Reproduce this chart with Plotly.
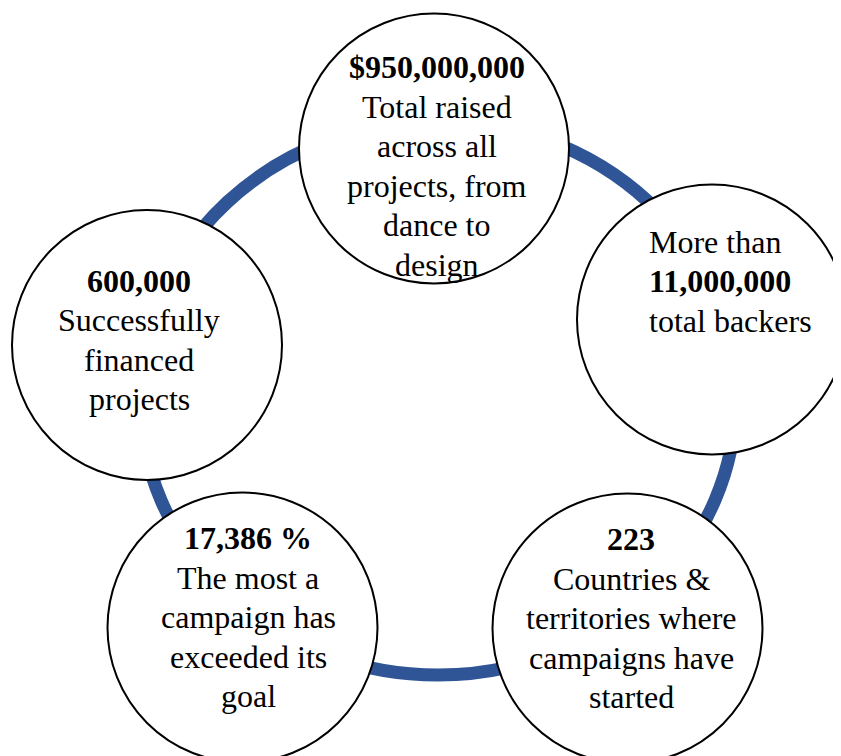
import plotly.graph_objects as go

# ---- content ----
headlines = ["$950,000,000", "11,000,000", "223", "17,386 %", "600,000"]
descriptions = [
    ["Total raised", "across all", "projects, from", "dance to", "design"],
    ["More than", None, "total backers"],
    ["Countries &", "territories where", "campaigns have", "started"],
    ["The most a", "campaign has", "exceeded its", "goal"],
    ["Successfully", "financed", "projects"],
]

# ---- layout (page-pixel coordinates) ----
W, H = 841, 756
PAGE_OFF = 8  # default body margin of the html page
centers = [(434, 148.5), (712, 319.5), (627.5, 628.5), (242.5, 627.5), (147, 345)]
radius = 135
ring = dict(cx=438, cy=398, a=298, b=277)
text_pos = [  # x, y (middle of block), xanchor, align
    (437, 166, "center"),
    (647, 281, "left"),
    (631, 618, "center"),
    (248, 617, "center"),
    (139, 340, "center"),
]
LINE_GAP = 39.5
FONT_SIZE = 32
RING_COLOR = "#2F5597"
FONT = "Liberation Serif"

fig = go.Figure()
fig.add_trace(go.Scatter(x=[PAGE_OFF, W], y=[PAGE_OFF, H], mode="markers",
                         marker=dict(opacity=0), hoverinfo="skip", showlegend=False))

shapes = [dict(type="circle", xref="x", yref="y",
               x0=ring["cx"] - ring["a"], x1=ring["cx"] + ring["a"],
               y0=ring["cy"] - ring["b"], y1=ring["cy"] + ring["b"],
               line=dict(color=RING_COLOR, width=13), fillcolor="rgba(0,0,0,0)",
               layer="above")]
for (cx, cy) in centers:
    shapes.append(dict(type="circle", xref="x", yref="y",
                       x0=cx - radius, x1=cx + radius, y0=cy - radius, y1=cy + radius,
                       line=dict(color="black", width=2), fillcolor="white", layer="above"))

annotations = []
for i, (head, desc) in enumerate(zip(headlines, descriptions)):
    if None in desc:
        lines = [f"<b>{head}</b>" if d is None else d for d in desc]
    else:
        lines = [f"<b>{head}</b>"] + desc
    x, ymid, xa = text_pos[i]
    n = len(lines)
    for j, line in enumerate(lines):
        y = ymid + (j - (n - 1) / 2) * LINE_GAP
        annotations.append(dict(x=x, y=y, xref="x", yref="y", text=line,
                                showarrow=False, xanchor=xa, yanchor="middle", align=xa,
                                font=dict(family=FONT, size=FONT_SIZE, color="black")))

fig.update_layout(
    width=W, height=H, margin=dict(l=0, r=0, t=0, b=0),
    paper_bgcolor="white", plot_bgcolor="white",
    xaxis=dict(range=[PAGE_OFF, W + PAGE_OFF], visible=False, fixedrange=True),
    yaxis=dict(range=[H + PAGE_OFF, PAGE_OFF], visible=False, fixedrange=True),
    shapes=shapes, annotations=annotations, showlegend=False,
)
fig.write_html("out.html")
